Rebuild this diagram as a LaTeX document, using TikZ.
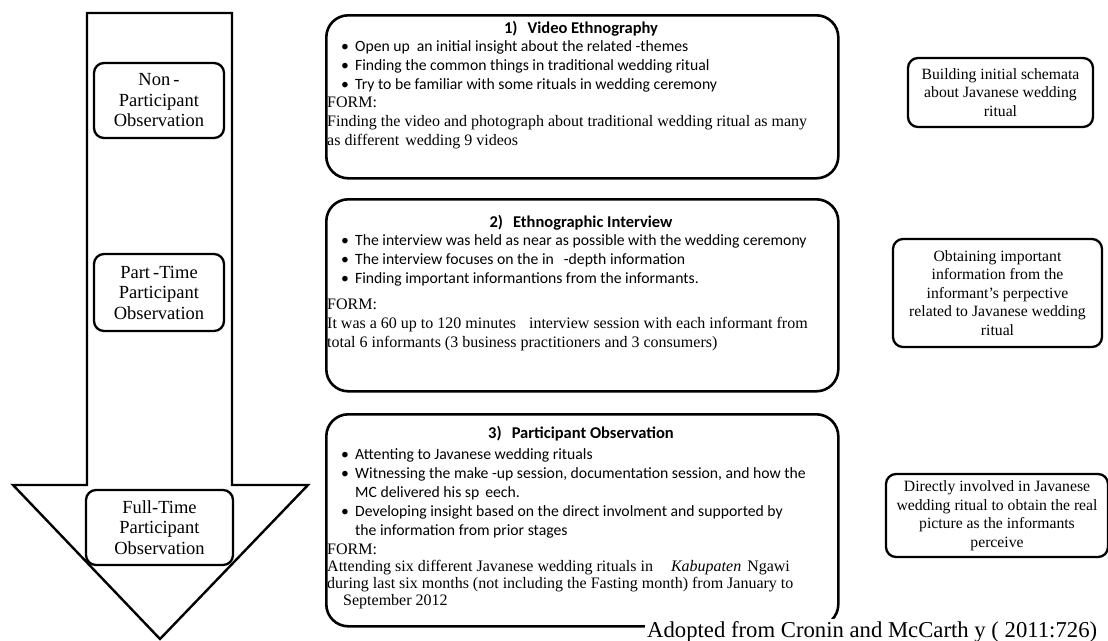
\documentclass[tikz,border=0pt]{standalone}
\usepackage{fontspec}
\setmainfont{Liberation Serif}
\newfontfamily\calibri{Carlito}
\usetikzlibrary{positioning}

\newcommand\bul{\makebox[14pt][l]{\textbullet}}
\newcommand\hang{\hspace*{14pt}}

\begin{document}
\begin{tikzpicture}[x=1pt,y=-1pt,
  arrowline/.style={line width=2.4pt, line join=miter},
  mainbox/.style={draw, line width=2.6pt, rounded corners=22pt, anchor=north west, inner sep=0pt},
  stagebox/.style={draw, fill=white, line width=2.3pt, rounded corners=10pt, align=center,
    inner sep=0pt, font=\fontsize{18.5}{20.5}\selectfont},
  aimbox/.style={draw, fill=white, line width=2.3pt, rounded corners=10pt, align=center,
    inner sep=0pt, font=\fontsize{15.7}{18.5}\selectfont},
  steptitle/.style={anchor=base, inner sep=0pt, font=\calibri\bfseries\fontsize{16.5}{19}\selectfont},
  itemtext/.style={anchor=base west, inner sep=0pt, font=\calibri\fontsize{15.7}{19}\selectfont},
  formtext/.style={anchor=base west, inner sep=0pt, font=\fontsize{16}{19}\selectfont},
  source/.style={anchor=base west, fill=white, inner sep=2pt, font=\fontsize{22.7}{26}\selectfont}
]
\useasboundingbox (0,0) rectangle (1108,640);

% big arrow
\draw[arrowline] (87,13) -- (232,13) -- (232,485) -- (308,485) -- (160,639)
  -- (13,485) -- (87,485) -- cycle;

% stages on the arrow
\node[stagebox, minimum width=130pt, minimum height=75pt] (nonpart) at (159,100.5)
  {Non\,-\\Participant\\Observation};
\node[stagebox, minimum width=130pt, minimum height=77pt] (parttime) at (159,292.5)
  {Part\,-Time\\Participant\\Observation};
\node[stagebox, minimum width=147pt, minimum height=75pt] (fulltime) at (159.5,527.5)
  {Full-Time\\Participant\\Observation};

% 1) video ethnography
\node[mainbox, minimum width=512pt, minimum height=163pt] (video) at (325,14) {};
\node[steptitle] (videotitle) at (581,33) {1)\hspace{10pt}Video Ethnography};
\node[itemtext] (videoitems) at (341,51) {\parbox[t]{490pt}{%
  \bul Open up\hspace{7pt}an initial insight about the related -themes\\
  \bul Finding the common things in traditional wedding ritual\\
  \bul Try to be familiar with some rituals in wedding ceremony}};
\node[formtext] (videoform) at (327,107) {\parbox[t]{505pt}{%
  FORM:\\
  Finding the video and photograph about traditional wedding ritual as many\\
  as different\hspace{6pt}wedding 9 videos}};

% 2) ethnographic interview
\node[mainbox, minimum width=512pt, minimum height=192pt] (interview) at (325,198) {};
\node[steptitle] (interviewtitle) at (581,227) {2)\hspace{10pt}Ethnographic Interview};
\node[itemtext] (interviewitems) at (341,245) {\parbox[t]{490pt}{%
  \bul The interview was held as near as possible with the wedding ceremony\\
  \bul The interview focuses on the in\hspace{10pt}-depth information\\
  \bul Finding important informantions from the informants.}};
\node[formtext] (interviewform) at (327,309) {\parbox[t]{505pt}{%
  FORM:\\
  It was a 60 up to 120 minutes\hspace{9pt} interview session with each informant from\\
  total 6 informants (3 business practitioners and 3 consumers)}};

% 3) participant observation
\node[mainbox, minimum width=512pt, minimum height=212pt] (observe) at (325,413) {};
\node[steptitle] (observetitle) at (581,438) {3)\hspace{10pt}Participant Observation};
\node[itemtext] (observeitems) at (341,459) {\parbox[t]{490pt}{%
  \bul Attenting to Javanese wedding rituals\\
  \bul Witnessing the make -up session, documentation session, and how the\\
  \hang MC delivered his sp\hspace{6pt}eech.\\
  \bul Developing insight based on the direct involment and supported by\\
  \hang the information from prior stages}};
\node[formtext] (observeform) at (327,554) {\parbox[t]{505pt}{\baselineskip=17pt
  FORM:\\
  Attending six different Javanese wedding rituals in\hspace{18pt}\textit{Kabupaten}\hspace{6pt}Ngawi\\
  during last six months (not including the Fasting month) from January to\\
  \hspace*{16pt}September 2012}};

% aims on the right
\node[aimbox, minimum width=185pt, minimum height=69pt] (aimvideo) at (1000.5,92.5)
  {Building initial schemata\\about Javanese wedding\\ritual};
\node[aimbox, minimum width=209pt, minimum height=108pt] (aiminterview) at (997.5,293)
  {Obtaining important\\information from the\\informant's perpective\\related to Javanese wedding\\ritual};
\node[aimbox, minimum width=222pt, minimum height=83pt] (aimobserve) at (997,515.5)
  {Directly involved in Javanese\\wedding ritual to obtain the real\\picture as the informants\\perceive};

\node[source] (adopted) at (645,637) {Adopted from Cronin and McCarth y ( 2011:726)};
\end{tikzpicture}
\end{document}
